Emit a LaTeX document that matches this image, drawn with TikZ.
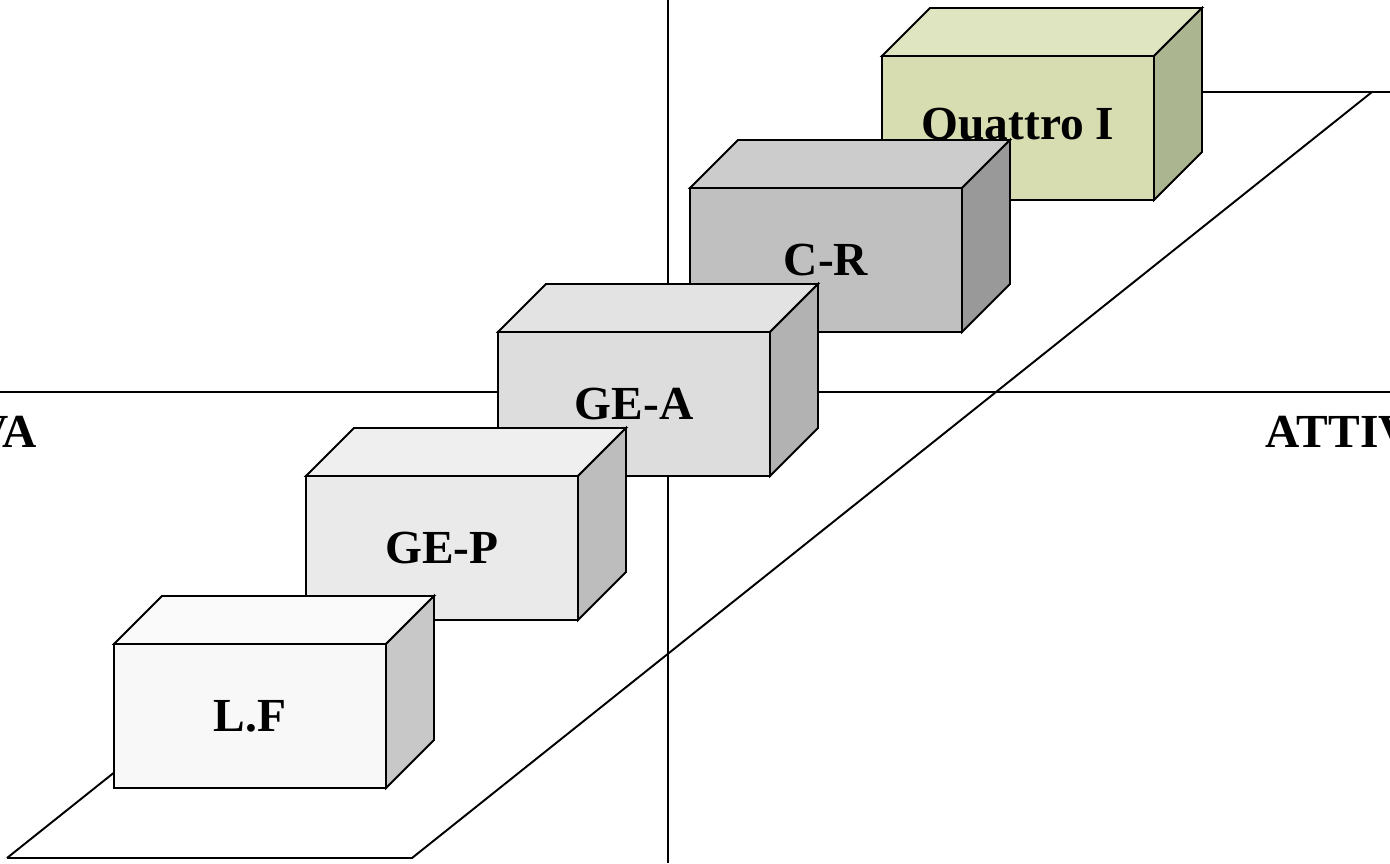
\documentclass[tikz,border=0pt]{standalone}
\usepackage{fontspec}
\setmainfont{Liberation Serif}

% face colours: front, top, side
\definecolor{lfF}{HTML}{F8F8F8}\definecolor{lfT}{HTML}{FAFAFA}\definecolor{lfS}{HTML}{C8C8C8}
\definecolor{gepF}{HTML}{EAEAEA}\definecolor{gepT}{HTML}{EFEFEF}\definecolor{gepS}{HTML}{BDBDBD}
\definecolor{geaF}{HTML}{DDDDDD}\definecolor{geaT}{HTML}{E3E3E3}\definecolor{geaS}{HTML}{B2B2B2}
\definecolor{crF}{HTML}{C0C0C0}\definecolor{crT}{HTML}{CCCCCC}\definecolor{crS}{HTML}{999999}
\definecolor{qiF}{HTML}{D7DDB0}\definecolor{qiT}{HTML}{DFE4C1}\definecolor{qiS}{HTML}{ABB58F}

% block with its front corner at (#1,#2)
\newcommand\drawblock[5]{%
  \filldraw[fill=#4F] (#1,#2) rectangle ++(272,144);
  \filldraw[fill=#4T] (#1,#2) -- ++(48,-48) -- ++(272,0) -- ++(-48,48) -- cycle;
  \filldraw[fill=#4S] (#1+272,#2) -- ++(48,-48) -- ++(0,144) -- ++(-48,48) -- cycle;
  \node[lbl] (#3) at (#1+136,#2+72) {#5};
}

\begin{document}
\begin{tikzpicture}[x=0.02cm,y=-0.02cm,line width=1.1pt,line join=miter,
    lbl/.style={font=\fontsize{27}{32}\selectfont\bfseries}]
  \useasboundingbox (0,0) rectangle (1390,863);
  \clip (0,0) rectangle (1390,863);
  % axes
  \draw (668,0) -- (668,863);
  \draw (0,392) -- (1390,392);
  \node[lbl,inner sep=0pt,anchor=base east] (passiva) at (38,447) {PASSIVA};
  \node[lbl,inner sep=0pt,anchor=base west] (attiva) at (1265,447) {ATTIVA};
  % ground plane
  \draw (7,858) -- (412,858) -- (1372,92) -- (1390,92);
  \draw (7,858) -- (967,92) -- (1372,92);
  % blocks, back to front
  \drawblock{882}{56}{qi}{qi}{Quattro I}
  \drawblock{690}{188}{cr}{cr}{C-R}
  \drawblock{498}{332}{gea}{gea}{GE-A}
  \drawblock{306}{476}{gep}{gep}{GE-P}
  \drawblock{114}{644}{lf}{lf}{L.F}
\end{tikzpicture}
\end{document}
